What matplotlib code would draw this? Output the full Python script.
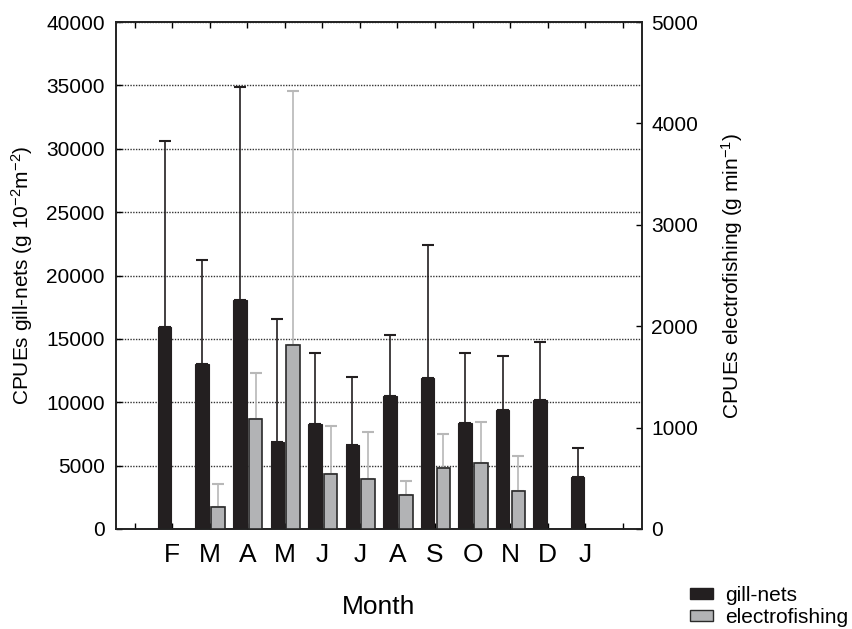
import matplotlib
matplotlib.use("Agg")
import matplotlib.pyplot as plt
import numpy as np
from matplotlib.patches import Patch

plt.rcParams['font.family'] = ['Liberation Sans', 'DejaVu Sans']
plt.rcParams['mathtext.fontset'] = 'custom'
plt.rcParams['mathtext.rm'] = 'Liberation Sans'
plt.rcParams['mathtext.it'] = 'Liberation Sans'

months = ["F", "M", "A", "M", "J", "J", "A", "S", "O", "N", "D", "J"]
gill_mean = [15900, 13000, 18100, 6850, 8250, 6620, 10520, 11950, 8330, 9390, 10150, 4100]
gill_err_top = [30650, 21200, 34850, 16600, 13850, 12000, 15330, 22430, 13850, 13640, 14750, 6400]
elec_mean = [0, 213, 1081, 1818, 546, 496, 332, 602, 652, 377, 0, 0]
elec_err_top = [0, 447, 1543, 4320, 1011, 956, 476, 939, 1051, 724, 0, 0]

fig = plt.figure(figsize=(8.52, 6.29), dpi=100)
ax = fig.add_axes([0.136, 0.159, 0.617, 0.806])
ax2 = ax.twinx()

x = np.arange(1, len(months) + 1)
w = 0.36
black = '#231f20'
grey = '#b2b3b5'

gerr = np.array(gill_err_top) - np.array(gill_mean)
ax.bar(x - 0.2, gill_mean, width=w, color=black, edgecolor=black, linewidth=0.8, zorder=3)
ax.errorbar(x - 0.2, gill_mean, yerr=[np.zeros(len(x)), gerr], fmt='none',
            ecolor=black, elinewidth=1.2, capsize=4, capthick=1.5, zorder=4)

emask = np.array(elec_mean) > 0
ex = (x + 0.22)[emask]
em = np.array(elec_mean)[emask]
ee = (np.array(elec_err_top) - np.array(elec_mean))[emask]
ax2.bar(ex, em, width=w, color=grey, edgecolor='#2a2a2a', linewidth=1.2, zorder=3)
ax2.errorbar(ex, em, yerr=[np.zeros(len(ex)), ee], fmt='none',
             ecolor='#b8b8b8', elinewidth=1.2, capsize=4, capthick=1.5, zorder=2)

ax.set_xlim(-0.5, 13.5)
ax.set_ylim(0, 40000)
ax2.set_ylim(0, 5000)
ax.set_yticks(np.arange(0, 40001, 5000))
ax2.set_yticks(np.arange(0, 5001, 1000))
ax.set_xticks(np.arange(0, 14))
ax.set_xticklabels([""] + months + [""], fontsize=19)

ax.yaxis.grid(True, linestyle=(0, (1, 1)), color='#333333', linewidth=1.0)
ax.set_axisbelow(True)

ax.tick_params(axis='x', direction='in', top=True, bottom=True, length=4, width=1, pad=10)
ax.tick_params(axis='y', direction='in', length=4, width=1, labelsize=15, pad=8)
ax2.tick_params(axis='y', direction='in', length=4, width=1, labelsize=15, pad=7)
for a in (ax, ax2):
    for s in a.spines.values():
        s.set_linewidth(1.2)
        s.set_color('#222222')

ax.set_ylabel(r"CPUEs gill-nets (g 10$^{-2}$m$^{-2}$)", fontsize=15, labelpad=8)
ax2.set_ylabel(r"CPUEs electrofishing (g min$^{-1}$)", fontsize=15, labelpad=15)
ax.set_xlabel("Month", fontsize=19, labelpad=20)

handles = [Patch(facecolor=black, edgecolor=black, label='gill-nets'),
           Patch(facecolor=grey, edgecolor='#2a2a2a', label='electrofishing')]
fig.legend(handles=handles, loc='lower left', bbox_to_anchor=(0.81, 0.003),
           frameon=False, fontsize=15, handlelength=1.1, handleheight=0.45,
           labelspacing=0.15, handletextpad=0.6, borderpad=0, borderaxespad=0)

fig.savefig("out.png", dpi=100)
